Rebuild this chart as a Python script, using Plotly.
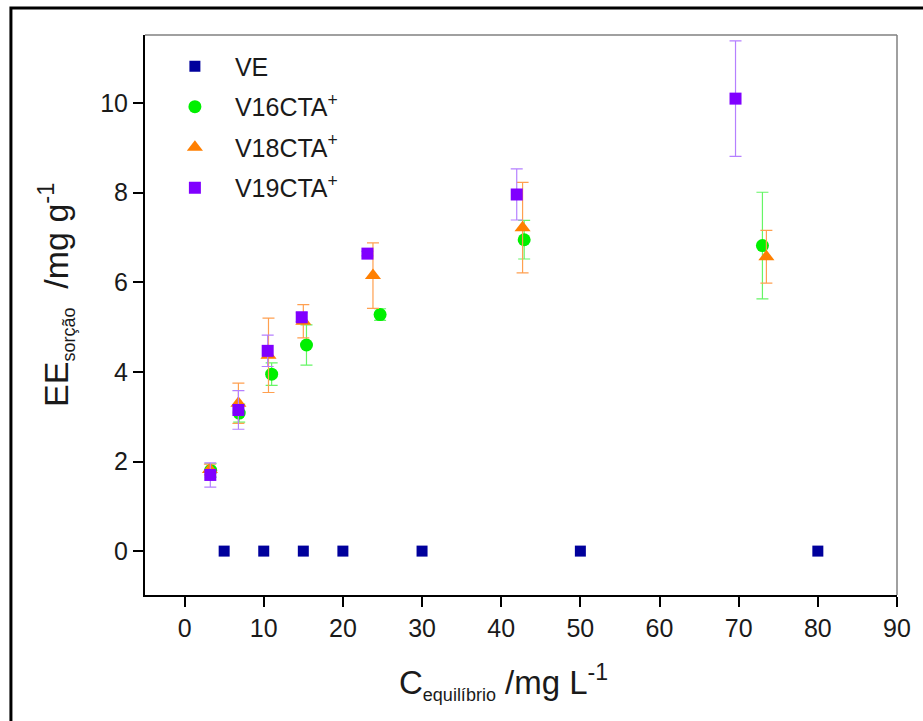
import plotly.graph_objects as go

# Sorption data: equilibrium concentration (mg/L) vs sorbed amount (mg/g)
ve_x = [5, 10, 15, 20, 30, 50, 80]
ve_y = [0, 0, 0, 0, 0, 0, 0]

v16_x = [3.3, 6.9, 11.0, 15.4, 24.7, 42.9, 73.0]
v16_y = [1.80, 3.08, 3.95, 4.60, 5.28, 6.95, 6.82]
v16_err = [0.15, 0.20, 0.25, 0.45, 0.13, 0.43, 1.19]

v18_x = [3.2, 6.8, 10.6, 15.0, 23.8, 42.7, 73.5]
v18_y = [1.82, 3.30, 4.37, 5.13, 6.15, 7.22, 6.57]
v18_err = [0.12, 0.45, 0.83, 0.37, 0.73, 1.01, 0.59]

v19_x = [3.25, 6.8, 10.5, 14.8, 23.1, 41.96, 69.6]
v19_y = [1.70, 3.15, 4.47, 5.22, 6.64, 7.96, 10.10]
v19_err = [0.27, 0.43, 0.35, 0.10, 0.05, 0.57, 1.29]

x_ticks = [0, 10, 20, 30, 40, 50, 60, 70, 80, 90]
y_ticks = [0, 2, 4, 6, 8, 10]

FONT = "Liberation Sans, Arial, sans-serif"
TXT = "#1a1a1a"

# plot area in pixels (left, right, top, bottom)
L, R, T, B = 145, 905, 35, 595
W, H = R - L, B - T


def px(x):
    return (x - L) / W


def py(y):
    return (B - y) / H


fig = go.Figure()

fig.add_trace(go.Scatter(
    x=ve_x, y=ve_y, mode="markers", name="VE", legendgroup="a",
    marker=dict(symbol="square", size=11, color="#00009C"),
))
fig.add_trace(go.Scatter(
    x=v16_x, y=v16_y, mode="markers", name="V16CTA<sup>+</sup>", legendgroup="b",
    marker=dict(symbol="circle", size=13, color="#00F000"),
    error_y=dict(type="data", array=v16_err, color="#66F566", thickness=1.2, width=6),
))
fig.add_trace(go.Scatter(
    x=v18_x, y=v18_y, mode="markers", name="V18CTA<sup>+</sup>", legendgroup="c",
    marker=dict(symbol="triangle-up", size=14, color="#FF7F00"),
    error_y=dict(type="data", array=v18_err, color="#FFA050", thickness=1.2, width=6),
))
fig.add_trace(go.Scatter(
    x=v19_x, y=v19_y, mode="markers", name="V19CTA<sup>+</sup>", legendgroup="d",
    marker=dict(symbol="square", size=12, color="#8000FF"),
    error_y=dict(type="data", array=v19_err, color="#B580FF", thickness=1.2, width=6),
))

# Outer frame and the thin top/right plot borders
shapes = [
    dict(type="rect", xref="paper", yref="paper",
         x0=px(9.5), x1=px(940), y0=py(740), y1=py(8),
         line=dict(color="black", width=3), fillcolor="rgba(0,0,0,0)", layer="below"),
    dict(type="line", xref="paper", yref="paper", x0=0, x1=1, y0=1, y1=1,
         line=dict(color="#808080", width=1.5)),
    dict(type="line", xref="paper", yref="paper", x0=1, x1=1, y0=0, y1=1,
         line=dict(color="#808080", width=1.5)),
]

annotations = [
    dict(text="C<sub><span style='font-size:18px'>equilíbrio</span></sub> /mg L<sup>-1</sup>",
         xref="paper", yref="paper", x=px(507), y=py(682),
         xanchor="center", yanchor="middle", showarrow=False,
         font=dict(size=33, family=FONT, color=TXT)),
    dict(text="EE<sub><span style='font-size:18px'>sorção</span></sub>  /mg g<sup>-1</sup>",
         xref="paper", yref="paper", x=px(54), y=py(294),
         xanchor="center", yanchor="middle", showarrow=False, textangle=-90,
         font=dict(size=34, family=FONT, color=TXT)),
]

fig.update_layout(
    width=923, height=721,
    margin=dict(l=L, r=923 - R, t=T, b=721 - B),
    paper_bgcolor="white", plot_bgcolor="white",
    font=dict(family=FONT, color=TXT),
    shapes=shapes,
    annotations=annotations,
    showlegend=True,
    legend=dict(
        x=px(155), y=0.985, xanchor="left", yanchor="top",
        bgcolor="rgba(0,0,0,0)", font=dict(size=25, family=FONT, color=TXT),
        traceorder="grouped", tracegroupgap=5, itemwidth=70,
    ),
    xaxis=dict(
        range=[-5, 90], tickvals=x_ticks, ticktext=[str(v) for v in x_ticks],
        showgrid=False, zeroline=False, showline=True, linecolor="black", linewidth=2,
        ticks="outside", ticklen=10, tickwidth=2, tickcolor="black",
        tickfont=dict(size=25, family=FONT, color=TXT),
    ),
    yaxis=dict(
        range=[-0.98, 11.52], tickvals=y_ticks, ticktext=[str(v) for v in y_ticks],
        showgrid=False, zeroline=False, showline=True, linecolor="black", linewidth=2,
        ticks="outside", ticklen=10, tickwidth=2, tickcolor="black",
        tickfont=dict(size=25, family=FONT, color=TXT),
    ),
)

fig.write_html("out.html")
